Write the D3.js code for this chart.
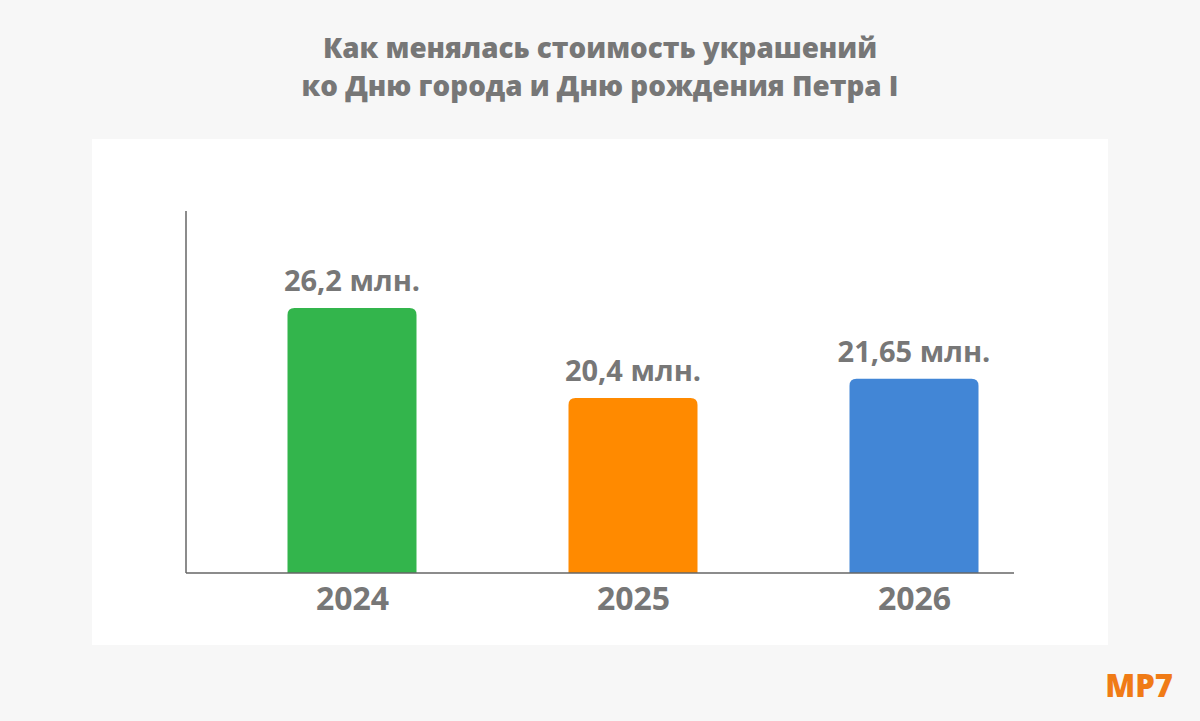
<!DOCTYPE html>
<html><head><meta charset="utf-8">
<script src="https://cdn.jsdelivr.net/npm/d3@7"></script>
<style>body{margin:0;background:#f7f7f7;}svg{display:block;font-family:"Open Sans",sans-serif;}</style>
</head><body><svg id="c" width="1200" height="721"></svg>
<script>
const years = ["2024","2025","2026"];
const values = [26.2, 20.4, 21.65];
const labels = ["26,2 млн.","20,4 млн.","21,65 млн."];
const colors = ["#33b54c","#ff8a00","#4286d6"];
const titleLines = ["Как менялась стоимость украшений","ко Дню города и Дню рождения Петра I"];

const svg = d3.select("#c");
svg.append("rect").attr("width",1200).attr("height",721).attr("fill","#f7f7f7");
svg.append("rect").attr("x",92).attr("y",139).attr("width",1016).attr("height",506).attr("fill","#fff");
svg.selectAll(".t").data(titleLines).enter().append("text")
  .attr("x",600).attr("y",(d,i)=>58+i*38).attr("text-anchor","middle")
  .attr("font-size",27.8).attr("font-weight",800).attr("fill","#777").text(d=>d);

const x = d3.scalePoint().domain(years).range([352,914]);
const y = d3.scaleLinear().domain([9.13,32.45]).range([573,211]);
const bw = 129, r = 7;
const g = svg.append("g");
g.selectAll(".bar").data(values).enter().append("path")
  .attr("fill",(d,i)=>colors[i])
  .attr("d",(d,i)=>{
    const x0=x(years[i])-bw/2, x1=x0+bw, t=y(d), b=y.range()[0];
    return `M${x0},${b}V${t+r}Q${x0},${t} ${x0+r},${t}H${x1-r}Q${x1},${t} ${x1},${t+r}V${b}Z`;
  });
g.selectAll(".lab").data(values).enter().append("text")
  .attr("x",(d,i)=>x(years[i])).attr("y",d=>y(d)-17).attr("text-anchor","middle")
  .attr("font-size",29).attr("font-weight","bold").attr("fill","#777").text((d,i)=>labels[i]);
svg.append("line").attr("x1",186).attr("x2",186).attr("y1",211).attr("y2",573).attr("stroke","#666").attr("stroke-width",1.5);
svg.append("line").attr("x1",186).attr("x2",1014).attr("y1",573).attr("y2",573).attr("stroke","#666").attr("stroke-width",1.5);
const xa = svg.append("g").attr("transform","translate(0,573)").call(d3.axisBottom(x).tickSize(0).tickPadding(14));
xa.select(".domain").remove();
xa.selectAll("text").attr("font-size",32).attr("font-weight","bold").attr("fill","#777").attr("font-family","'Open Sans',sans-serif").attr("dy","0.72em");
svg.append("text").attr("x",1173).attr("y",697).attr("text-anchor","end").attr("font-size",31).attr("font-weight",800).attr("fill","#f07b16").text("MP7");
</script></body></html>
